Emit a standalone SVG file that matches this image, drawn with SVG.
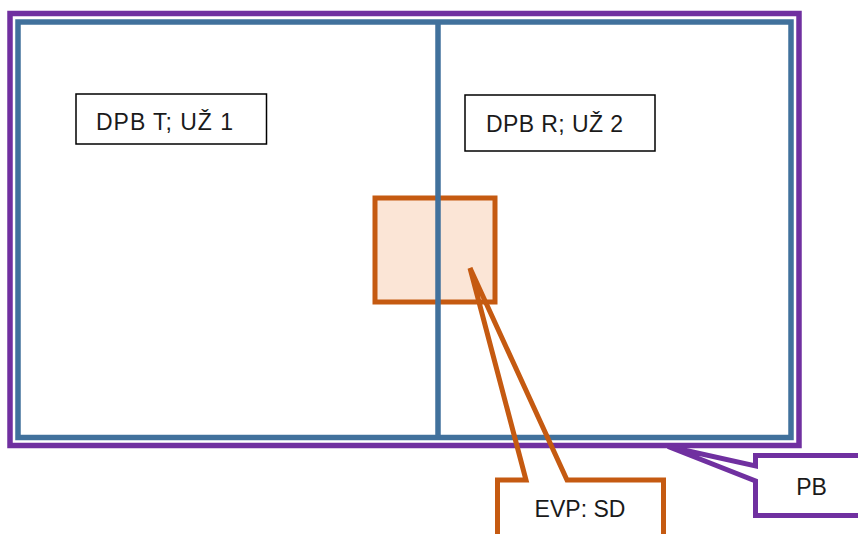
<svg xmlns="http://www.w3.org/2000/svg" width="858" height="534" viewBox="0 0 858 534">
<style>
.lbl{font-family:"Liberation Sans",Arial,sans-serif;font-size:23px;fill:#1a1a1a}
.box{fill:#fff;stroke:#000;stroke-width:1.5}
.purple{fill:none;stroke:#7030A0;stroke-width:5.5}
.blue{fill:none;stroke:#41719C;stroke-width:5.5}
.orange{stroke:#C55A11;stroke-width:5;stroke-linejoin:miter}
</style>
<rect width="858" height="534" fill="#fff"/>
<g id="PB-area"><rect class="purple" x="10" y="13.5" width="789" height="432"/></g>
<g id="EVP-area"><rect class="orange" x="375" y="198" width="120" height="104" fill="#FBE5D6"/></g>
<g id="DPB-areas">
<rect class="blue" x="18" y="22" width="773" height="415.5"/>
<line class="blue" x1="438" y1="22" x2="438" y2="437.5"/>
</g>
<g id="DPB-T"><rect class="box" x="76" y="94" width="190.5" height="50"/><text class="lbl" x="96" y="130" textLength="137">DPB T; UŽ 1</text></g>
<g id="DPB-R"><rect class="box" x="465" y="95" width="190" height="56"/><text class="lbl" x="486" y="131.5" textLength="137">DPB R; UŽ 2</text></g>
<g id="connectors">
<path id="EVP-callout" class="orange" fill="none" d="M497.5 540 L497.5 480 L526 480 L470 268 L567 480 L663.5 480 L663.5 540"/>
<path id="PB-callout" fill="none" stroke="#7030A0" stroke-width="5" d="M870 455.5 L755.5 455.5 L755.5 466 L668 446.5 L755.5 481 L755.5 515.5 L870 515.5"/>
</g>
<g id="EVP-SD"><text class="lbl" x="580" y="517" text-anchor="middle">EVP: SD</text></g>
<g id="PB"><text class="lbl" x="811.5" y="495" text-anchor="middle">PB</text></g>
</svg>
